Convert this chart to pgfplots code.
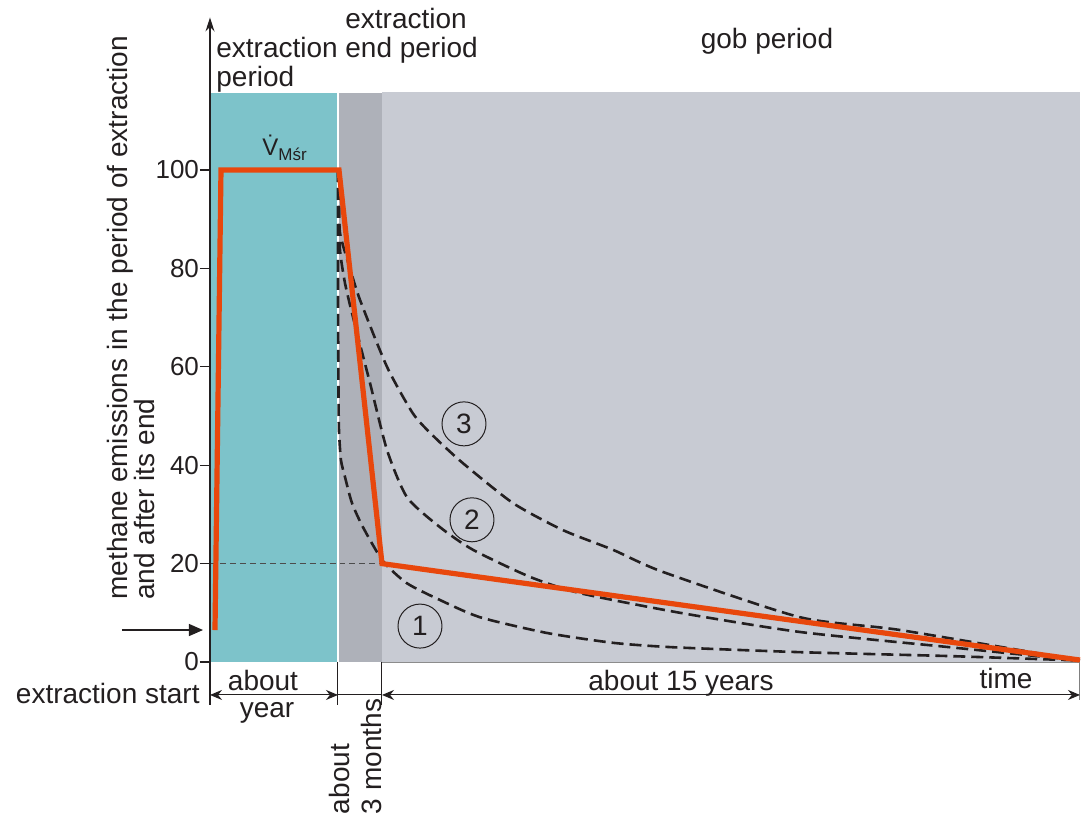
\documentclass[border=0pt]{standalone}
\usepackage{fontspec}
\setmainfont{Liberation Sans}
\usepackage{pgfplots}
\pgfplotsset{compat=1.18}
\usetikzlibrary{arrows.meta}
\definecolor{extr}{HTML}{7DC3CA}
\definecolor{endp}{HTML}{AEB1B9}
\definecolor{gob}{HTML}{C8CBD3}
\definecolor{emis}{HTML}{E8470C}
\definecolor{ink}{HTML}{231F20}
\newcommand{\lbl}{\fontsize{14bp}{14.5bp}\selectfont}

\begin{document}
\begin{tikzpicture}[every node/.append style={text=ink}]
\begin{axis}[
  x=0.5bp, y=2.46bp,
  xmin=0, xmax=870, ymin=0, ymax=131,
  axis x line=none,
  axis y line=left,
  axis line style={draw=ink, line width=0.6bp},
  y axis line style={-{Stealth[length=7bp,width=4.5bp]}},
  ytick={0,20,40,60,80,100},
  tick align=outside,
  major tick length=5bp,
  tick style={draw=ink, line width=0.6bp},
  yticklabel style={font=\fontsize{13bp}{13bp}\selectfont, xshift=3bp},
  /pgf/number format/assume math mode=true,
  clip=false,
  axis on top,
]
% period backgrounds
\addplot[fill=extr, draw=none] coordinates {(0,115.6) (128,115.6)} \closedcycle;
\addplot[fill=endp, draw=none] coordinates {(128,115.6) (172,115.6)} \closedcycle;
\addplot[fill=gob, draw=none] coordinates {(172,115.9) (870,115.9)} \closedcycle;
\draw[white, line width=0.6bp] (axis cs:128,0) -- (axis cs:128,115.6);
\draw[black!45, line width=0.4bp] (axis cs:172,0) -- (axis cs:870,0);

% reference level 20
\draw[black!70, densely dashed, line width=0.4bp] (axis cs:0,20) -- (axis cs:172,20);

% decay variants 1, 2, 3
\addplot[ink, line width=1.3bp, dash pattern=on 6bp off 3bp, smooth, tension=0.4] coordinates {
  (128,100) (128,75) (128.5,55) (129,47) (131,41) (135,37.6) (142,32.3) (153,27.4)
  (173,20.5) (197,16) (230,12.6) (270,9.1) (337,5.9) (403,3.9) (463,3.0)
  (590,2.0) (740,1.2) (870,0.3)};
\addplot[ink, line width=1.3bp, dash pattern=on 6bp off 3bp, smooth, tension=0.4] coordinates {
  (128,100) (129,92) (130,83.7) (135,77) (143,70.1) (160,56.7) (177,43.1) (197,33.5)
  (230,27.4) (263,22.8) (320,17.3) (370,14.0) (470,10.0) (590,6.1) (740,3.0) (870,0.3)};
\addplot[ink, line width=1.3bp, dash pattern=on 6bp off 3bp, smooth, tension=0.4] coordinates {
  (128,100) (129,95) (130,87.2) (140,80) (150,73.6) (177,60) (203,50.5) (223,46)
  (253,40.4) (303,32.3) (353,26.8) (403,22.8) (453,18.3) (590,9.1) (690,6.5) (870,0.3)};

% simplified emission course
\addplot[emis, line width=2.6bp, line join=miter] coordinates {
  (5,6.5) (11,100) (129,100) (172,20) (870,0.4)};

\node[draw=ink, circle, line width=0.5bp, minimum size=22bp, inner sep=0, font=\lbl] at (axis cs:254,48.4) {3};
\node[draw=ink, circle, line width=0.5bp, minimum size=22bp, inner sep=0, font=\lbl] at (axis cs:262,28.9) {2};
\node[draw=ink, circle, line width=0.5bp, minimum size=22bp, inner sep=0, font=\lbl] at (axis cs:210,7.3) {1};

\node[anchor=base west, inner sep=0] at (axis cs:52,103) {{\fontsize{12bp}{12bp}\selectfont\.{V}}\raisebox{-2.5bp}{\fontsize{8.5bp}{8.5bp}\selectfont Mśr}};

% period titles
\node[anchor=north west, align=left, inner sep=0, font=\lbl] at (axis cs:6,127) {extraction\\period};
\node[anchor=north west, align=left, inner sep=0, font=\lbl] at (axis cs:135,132.9) {extraction\\end period};
\node[anchor=base, inner sep=0, font=\lbl] at (axis cs:557,124.6) {gob period};

% y label
\node[rotate=90, anchor=base west, inner sep=0, font=\lbl] at (axis cs:-82,12.6) {methane emissions in the period of extraction};
\node[rotate=90, anchor=base west, inner sep=0, font=\lbl] at (axis cs:-55,12.6) {and after its end};

% start arrow
\draw[ink, line width=0.6bp, -{Triangle[length=7bp,width=6bp]}] (axis cs:-88,6.5) -- (axis cs:-7,6.5);

% time dimension lines
\draw[ink, line width=0.6bp] (axis cs:0,0) -- (axis cs:0,-8.7);
\draw[ink, line width=0.5bp] (axis cs:128,0) -- (axis cs:128,-8.7);
\draw[ink, line width=0.5bp] (axis cs:172,0) -- (axis cs:172,-8.7);
\draw[black!50, line width=0.5bp] (axis cs:870,0) -- (axis cs:870,-7.7);
\draw[ink, line width=0.5bp, {Stealth[length=6bp,width=5bp]}-{Stealth[length=6bp,width=5bp]}] (axis cs:0,-6.7) -- (axis cs:128,-6.7);
\draw[ink, line width=0.5bp] (axis cs:128,-6.7) -- (axis cs:172,-6.7);
\draw[ink, line width=0.5bp, {Stealth[length=6bp,width=5bp]}-{Stealth[length=6bp,width=5bp]}] (axis cs:172,-6.7) -- (axis cs:870,-6.7);

\node[anchor=base east, inner sep=0, font=\lbl] at (axis cs:-10,-8.5) {extraction start};
\node[anchor=base, inner sep=0, font=\lbl] at (axis cs:53,-5.8) {about};
\node[anchor=base, inner sep=0, font=\lbl] at (axis cs:57,-11.2) {year};
\node[anchor=base, inner sep=0, font=\lbl] at (axis cs:471,-5.7) {about 15 years};
\node[anchor=base, inner sep=0, font=\lbl] at (axis cs:796,-5.3) {time};
\node[rotate=90, anchor=base west, inner sep=0, font=\lbl] at (axis cs:140,-31) {about};
\node[rotate=90, anchor=base west, inner sep=0, font=\lbl] at (axis cs:172,-31) {3 months};

\path (axis cs:-210,-32.1) rectangle (axis cs:875,134.55);
\end{axis}
\end{tikzpicture}
\end{document}
